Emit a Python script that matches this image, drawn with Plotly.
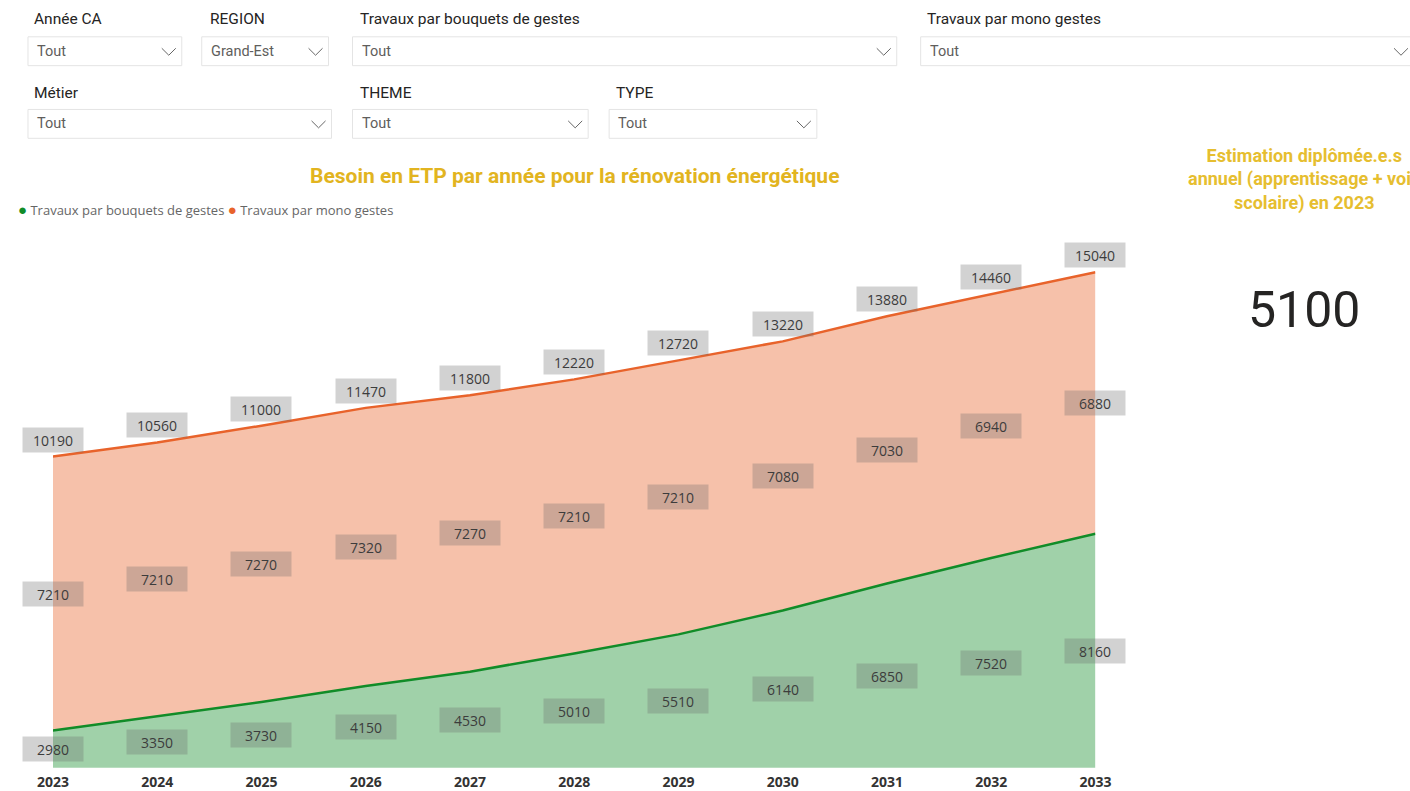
import plotly.graph_objects as go

W, H = 1410, 791

# ---------------- data ----------------
years = [2023, 2024, 2025, 2026, 2027, 2028, 2029, 2030, 2031, 2032, 2033]
bouquets = [2980, 3350, 3730, 4150, 4530, 5010, 5510, 6140, 6850, 7520, 8160]
mono = [7210, 7210, 7270, 7320, 7270, 7210, 7210, 7080, 7030, 6940, 6880]
totals = [b + m for b, m in zip(bouquets, mono)]
year_labels = [str(y) for y in years]
kpi_value = "5100"

series_names = ["Travaux par bouquets de gestes", "Travaux par mono gestes"]
GREEN = "#118C28"
ORANGE = "#E8632B"
Y_MIN, Y_MAX = 2000, 16000

# the page is photographed with a 15px side band: map target pixels to paper
X_OFF, X_SPAN = 15, 1380


def px(x):
    return (x - X_OFF) / X_SPAN


def py(y):
    return 1 - y / H


fig = go.Figure()
fig.add_trace(go.Scatter(
    x=years, y=bouquets, name=series_names[0], stackgroup="one",
    mode="lines", line=dict(color=GREEN, width=2.5),
    fillcolor="rgba(17,140,40,0.40)", hoverinfo="x+y"))
fig.add_trace(go.Scatter(
    x=years, y=mono, name=series_names[1], stackgroup="one",
    mode="lines", line=dict(color=ORANGE, width=2.5),
    fillcolor="rgba(232,99,43,0.40)", hoverinfo="x+y"))

annotations = []
label_font = dict(family="Open Sans, sans-serif", size=14, color="#3c3c3c")
label_bg = "rgba(105,105,105,0.30)"
for x, b, m, t in zip(years, bouquets, mono, totals):
    # total label above the top line
    annotations.append(dict(x=x, y=t, xref="x", yref="y", text=str(t), yshift=17,
                            showarrow=False, font=label_font, bgcolor=label_bg,
                            width=58, height=22))
    # mono label in the middle of the orange band
    annotations.append(dict(x=x, y=b + m / 2, xref="x", yref="y", text=str(m),
                            showarrow=False, font=label_font, bgcolor=label_bg,
                            width=58, height=22))
    # bouquets label in the middle of the visible green band
    annotations.append(dict(x=x, y=(Y_MIN + b) / 2, xref="x", yref="y", text=str(b),
                            showarrow=False, font=label_font, bgcolor=label_bg,
                            width=58, height=22))

# chart title
annotations.append(dict(x=px(574), y=py(177), xref="paper", yref="paper",
                        text="<b>Besoin en ETP par année pour la rénovation énergétique</b>",
                        showarrow=False, xanchor="center", yanchor="middle",
                        font=dict(family="Roboto, sans-serif", size=21, color="#E2B420")))

# legend
annotations.append(dict(
    x=px(15), y=py(210), xref="paper", yref="paper", xanchor="left", yanchor="middle",
    showarrow=False,
    text=(f'<span style="color:{GREEN};font-size:15px">●</span> {series_names[0]} '
          f'<span style="color:{ORANGE};font-size:15px">●</span> {series_names[1]}'),
    font=dict(family="Open Sans, sans-serif", size=13, color="#666666")))

# KPI card
annotations.append(dict(
    x=px(1305), y=py(180), xref="paper", yref="paper", xanchor="center", yanchor="middle",
    showarrow=False, align="center",
    text="<b>Estimation diplômée.e.s<br>annuel (apprentissage + voie<br>scolaire) en 2023</b>",
    font=dict(family="Roboto, sans-serif", size=18, color="#E6BE30")))
annotations.append(dict(
    x=px(1305), y=py(312), xref="paper", yref="paper", xanchor="center", yanchor="middle",
    showarrow=False, text=kpi_value,
    font=dict(family="Roboto, sans-serif", size=50, color="#252423")))

# slicers
slicers = [
    # header, value, header_x, box_x0, box_x1, header_y, box_y0, box_y1
    ("Année CA", "Tout", 31, 27, 181, 19, 37, 66),
    ("REGION", "Grand-Est", 207, 201, 328, 19, 37, 66),
    ("Travaux par bouquets de gestes", "Tout", 357, 352, 897, 19, 37, 66),
    ("Travaux par mono gestes", "Tout", 925, 921, 1420, 19, 37, 66),
    ("Métier", "Tout", 31, 27, 331, 93, 110, 139),
    ("THEME", "Tout", 357, 352, 588, 93, 110, 139),
    ("TYPE", "Tout", 614, 609, 817, 93, 110, 139),
]
shapes = []
for head, val, hx, bx0, bx1, hy, by0, by1 in slicers:
    annotations.append(dict(x=px(hx), y=py(hy), xref="paper", yref="paper",
                            xanchor="left", yanchor="middle", showarrow=False, text=head,
                            font=dict(family="Roboto, sans-serif", size=15.5, color="#252423")))
    annotations.append(dict(x=px(bx0 + 7), y=py((by0 + by1) / 2), xref="paper", yref="paper",
                            xanchor="left", yanchor="middle", showarrow=False, text=val,
                            font=dict(family="Roboto, sans-serif", size=14.5, color="#605E5C")))
    shapes.append(dict(type="rect", xref="paper", yref="paper",
                       x0=px(bx0), x1=px(bx1), y0=py(by1), y1=py(by0),
                       line=dict(color="#E4E4E4", width=1), fillcolor="white", layer="below"))
    cx = min(bx1, 1415) - 13
    cy = (by0 + by1) / 2
    shapes.append(dict(type="path", xref="paper", yref="paper",
                       path=f"M {px(cx - 7)} {py(cy - 3)} L {px(cx)} {py(cy + 4)} L {px(cx + 7)} {py(cy - 3)}",
                       line=dict(color="#666666", width=1)))

fig.update_layout(
    autosize=True,
    margin=dict(l=0, r=0, t=0, b=0),
    paper_bgcolor="white", plot_bgcolor="white",
    showlegend=False,
    xaxis=dict(domain=[px(52), px(1096)], range=[2023, 2033],
               tickvals=years, ticktext=year_labels,
               tickfont=dict(family="Open Sans, sans-serif", size=14, color="#333333", weight="bold"),
               ticklabelstandoff=4,
               showgrid=False, zeroline=False, showline=False, ticks=""),
    yaxis=dict(domain=[py(771.7), py(236.9)], range=[Y_MIN, Y_MAX], visible=False,
               showgrid=False, zeroline=False),
    annotations=annotations,
    shapes=shapes,
)

fig.write_html(
    "out.html",
    default_width="1410px",
    default_height="791px",
    config={"displayModeBar": False},
    post_script="document.body.style.margin='0';document.body.style.overflow='hidden';"
                "document.documentElement.style.overflow='hidden';",
)
